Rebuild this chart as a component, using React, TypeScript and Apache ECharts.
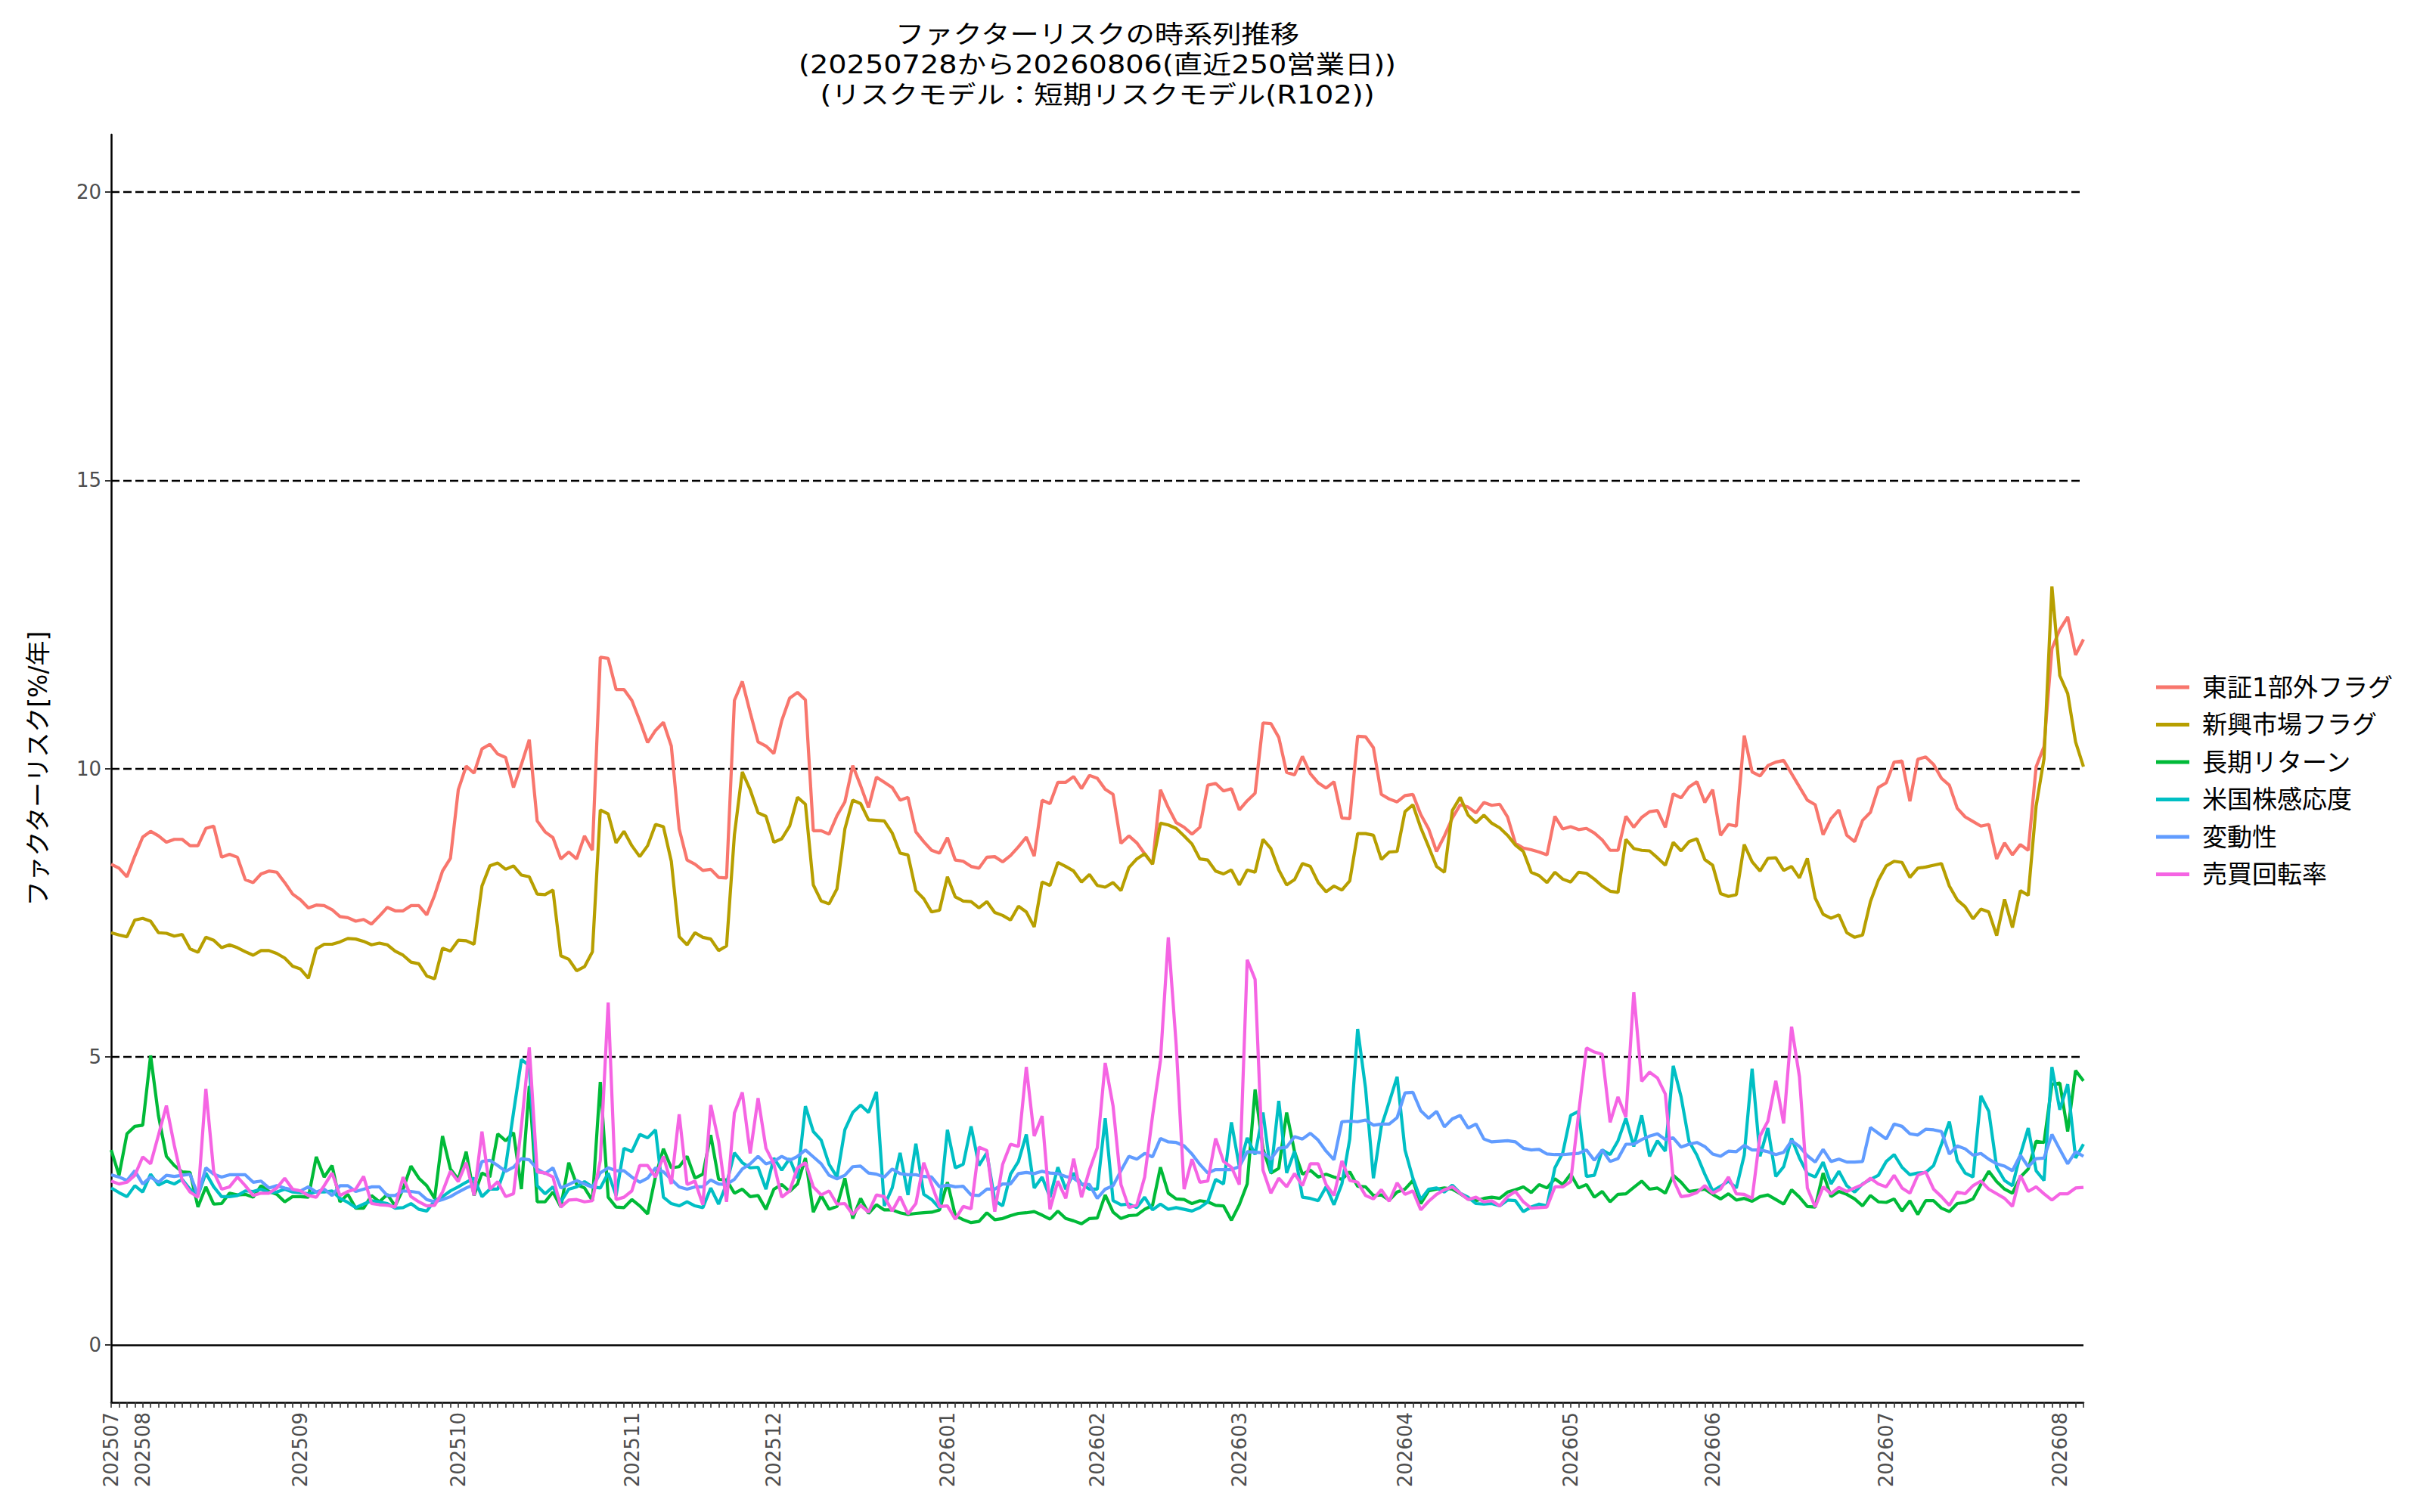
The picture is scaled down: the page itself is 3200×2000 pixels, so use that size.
import React, { useEffect, useRef } from "react";
import * as echarts from "echarts";

const START_DATE = "2025-07-28";
const END_DATE = "2026-08-06";
const HOLIDAYS = [
  "2025-08-11", "2025-09-15", "2025-09-23", "2025-10-13", "2025-11-03", "2025-11-24",
  "2025-12-31", "2026-01-01", "2026-01-02", "2026-01-12", "2026-02-11", "2026-02-23",
  "2026-03-20", "2026-04-29", "2026-05-04", "2026-05-05", "2026-05-06", "2026-07-20",
];

const TITLE_LINES = [
  "ファクターリスクの時系列推移",
  "(20250728から20260806(直近250営業日))",
  "(リスクモデル：短期リスクモデル(R102))",
];
const Y_NAME = "ファクターリスク[%/年]";
const Y_TICKS = [0, 5, 10, 15, 20];
const GRID_DASHED = [5, 10, 15, 20];

const SERIES_NAMES = ["東証1部外フラグ", "新興市場フラグ", "長期リターン", "米国株感応度", "変動性", "売買回転率"];
const COLORS = ["#F8766D", "#B79F00", "#00BA38", "#00BFC4", "#619CFF", "#F564E3"];

const tosho = [
  8.34, 8.27, 8.12, 8.48, 8.81, 8.91, 8.83, 8.72, 8.77, 8.77,
  8.66, 8.66, 8.96, 9.00, 8.46, 8.51, 8.46, 8.07, 8.02, 8.17,
  8.22, 8.20, 8.02, 7.82, 7.72, 7.58, 7.63, 7.62, 7.55, 7.43,
  7.41, 7.35, 7.38, 7.30, 7.44, 7.59, 7.53, 7.53, 7.62, 7.62,
  7.46, 7.80, 8.22, 8.44, 9.63, 10.04, 9.92, 10.34, 10.42, 10.25,
  10.19, 9.67, 10.07, 10.50, 9.09, 8.90, 8.80, 8.43, 8.55, 8.43,
  8.83, 8.58, 11.93, 11.91, 11.37, 11.37, 11.18, 10.83, 10.45, 10.66,
  10.80, 10.39, 8.95, 8.41, 8.34, 8.23, 8.25, 8.11, 8.10, 11.18,
  11.51, 10.97, 10.46, 10.39, 10.26, 10.83, 11.22, 11.32, 11.19, 8.92,
  8.92, 8.86, 9.18, 9.42, 10.05, 9.70, 9.32, 9.85, 9.76, 9.67,
  9.45, 9.50, 8.90, 8.73, 8.58, 8.53, 8.80, 8.41, 8.39, 8.30,
  8.27, 8.46, 8.47, 8.38, 8.49, 8.64, 8.81, 8.48, 9.45, 9.39,
  9.76, 9.76, 9.86, 9.65, 9.88, 9.83, 9.64, 9.55, 8.70, 8.83,
  8.71, 8.52, 8.34, 9.63, 9.32, 9.06, 8.98, 8.86, 8.98, 9.71,
  9.74, 9.61, 9.65, 9.28, 9.44, 9.57, 10.79, 10.78, 10.54, 9.93,
  9.89, 10.21, 9.91, 9.75, 9.66, 9.77, 9.14, 9.13, 10.56, 10.55,
  10.36, 9.55, 9.47, 9.42, 9.53, 9.55, 9.20, 8.95, 8.56, 8.83,
  9.14, 9.37, 9.33, 9.23, 9.41, 9.36, 9.38, 9.16, 8.70, 8.62,
  8.59, 8.55, 8.50, 9.17, 8.95, 8.99, 8.94, 8.96, 8.88, 8.76,
  8.58, 8.58, 9.17, 8.98, 9.15, 9.25, 9.27, 8.98, 9.56, 9.49,
  9.68, 9.77, 9.41, 9.63, 8.84, 9.03, 9.00, 10.57, 9.94, 9.87,
  10.05, 10.11, 10.14, 9.91, 9.68, 9.45, 9.37, 8.85, 9.13, 9.28,
  8.84, 8.73, 9.10, 9.24, 9.67, 9.75, 10.11, 10.13, 9.43, 10.16,
  10.20, 10.07, 9.83, 9.71, 9.31, 9.16, 9.08, 9.00, 9.03, 8.43,
  8.71, 8.50, 8.68, 8.58, 10.03, 10.38, 12.08, 12.41, 12.63, 11.97, 12.24,
];

const shinko = [
  7.15, 7.11, 7.08, 7.37, 7.40, 7.35, 7.15, 7.14, 7.09, 7.12,
  6.87, 6.81, 7.07, 7.02, 6.89, 6.94, 6.89, 6.82, 6.76, 6.84,
  6.84, 6.79, 6.71, 6.57, 6.52, 6.36, 6.87, 6.95, 6.95, 6.99,
  7.05, 7.04, 7.00, 6.94, 6.97, 6.94, 6.83, 6.76, 6.64, 6.61,
  6.40, 6.35, 6.88, 6.83, 7.02, 7.01, 6.95, 7.96, 8.31, 8.36,
  8.25, 8.31, 8.15, 8.12, 7.82, 7.81, 7.89, 6.75, 6.69, 6.49,
  6.56, 6.82, 9.28, 9.21, 8.71, 8.91, 8.66, 8.47, 8.66, 9.03,
  8.99, 8.39, 7.08, 6.94, 7.15, 7.07, 7.04, 6.84, 6.92, 8.85,
  9.94, 9.63, 9.23, 9.17, 8.72, 8.78, 9.00, 9.50, 9.38, 7.98,
  7.70, 7.65, 7.91, 8.95, 9.45, 9.39, 9.11, 9.10, 9.09, 8.88,
  8.53, 8.50, 7.88, 7.74, 7.51, 7.54, 8.12, 7.77, 7.70, 7.69,
  7.58, 7.69, 7.50, 7.45, 7.37, 7.61, 7.51, 7.25, 8.03, 7.97,
  8.37, 8.30, 8.22, 8.03, 8.16, 7.97, 7.94, 8.02, 7.88, 8.28,
  8.43, 8.52, 8.34, 9.05, 9.02, 8.96, 8.83, 8.69, 8.43, 8.41,
  8.22, 8.17, 8.24, 7.98, 8.24, 8.20, 8.77, 8.61, 8.24, 7.98,
  8.07, 8.35, 8.30, 8.02, 7.86, 7.96, 7.89, 8.05, 8.87, 8.87,
  8.84, 8.42, 8.55, 8.56, 9.25, 9.37, 8.97, 8.64, 8.30, 8.20,
  9.27, 9.50, 9.19, 9.06, 9.19, 9.05, 8.97, 8.84, 8.67, 8.56,
  8.20, 8.14, 8.02, 8.20, 8.08, 8.03, 8.20, 8.18, 8.08, 7.96,
  7.87, 7.85, 8.77, 8.61, 8.58, 8.57, 8.45, 8.32, 8.72, 8.57,
  8.73, 8.78, 8.42, 8.32, 7.83, 7.78, 7.81, 8.68, 8.38, 8.22,
  8.44, 8.45, 8.23, 8.30, 8.10, 8.44, 7.75, 7.47, 7.40, 7.46,
  7.15, 7.07, 7.11, 7.69, 8.06, 8.31, 8.39, 8.37, 8.11, 8.27,
  8.29, 8.32, 8.35, 7.96, 7.72, 7.60, 7.39, 7.56, 7.51, 7.10,
  7.73, 7.24, 7.88, 7.80, 9.35, 10.17, 13.16, 11.61, 11.30, 10.46, 10.03,
];

const chokiReturn = [
  3.38, 2.94, 3.66, 3.79, 3.81, 5.02, 3.97, 3.27, 3.11, 3.00,
  2.99, 2.39, 2.74, 2.44, 2.45, 2.63, 2.60, 2.61, 2.56, 2.76,
  2.66, 2.61, 2.48, 2.57, 2.57, 2.56, 3.26, 2.91, 3.11, 2.48,
  2.61, 2.37, 2.37, 2.59, 2.48, 2.61, 2.41, 2.70, 3.10, 2.89,
  2.76, 2.54, 3.62, 3.05, 2.87, 3.35, 2.59, 2.98, 2.91, 3.66,
  3.54, 3.68, 2.70, 4.49, 2.48, 2.48, 2.65, 2.39, 3.16, 2.78,
  2.72, 2.50, 4.56, 2.56, 2.39, 2.38, 2.52, 2.41, 2.27, 2.92,
  3.40, 3.07, 3.09, 3.27, 2.89, 2.96, 3.64, 2.87, 2.86, 2.63,
  2.70, 2.57, 2.59, 2.35, 2.70, 2.78, 2.66, 2.79, 3.24, 2.30,
  2.59, 2.35, 2.40, 2.89, 2.19, 2.54, 2.28, 2.43, 2.34, 2.34,
  2.29, 2.26, 2.28, 2.29, 2.30, 2.34, 2.82, 2.24, 2.17, 2.12,
  2.14, 2.29, 2.17, 2.19, 2.24, 2.28, 2.29, 2.31, 2.25, 2.18,
  2.32, 2.19, 2.15, 2.10, 2.19, 2.20, 2.60, 2.30, 2.19, 2.24,
  2.25, 2.35, 2.42, 3.08, 2.63, 2.53, 2.52, 2.45, 2.50, 2.48,
  2.42, 2.41, 2.16, 2.43, 2.79, 4.43, 3.40, 2.98, 3.06, 4.03,
  3.35, 2.96, 3.03, 2.91, 2.96, 2.91, 2.87, 3.00, 2.75, 2.74,
  2.59, 2.60, 2.51, 2.65, 2.70, 2.85, 2.45, 2.67, 2.70, 2.72,
  2.70, 2.62, 2.53, 2.50, 2.54, 2.56, 2.54, 2.65, 2.69, 2.74,
  2.64, 2.78, 2.72, 2.88, 2.78, 2.96, 2.72, 2.78, 2.56, 2.66,
  2.48, 2.61, 2.62, 2.73, 2.84, 2.70, 2.72, 2.63, 2.94, 2.82,
  2.66, 2.68, 2.70, 2.61, 2.53, 2.62, 2.51, 2.54, 2.49, 2.57,
  2.60, 2.52, 2.44, 2.69, 2.56, 2.40, 2.39, 2.98, 2.57, 2.66,
  2.61, 2.53, 2.41, 2.59, 2.48, 2.47, 2.53, 2.32, 2.50, 2.26,
  2.50, 2.50, 2.37, 2.31, 2.45, 2.47, 2.53, 2.78, 3.01, 2.83,
  2.70, 2.63, 2.91, 3.05, 3.53, 3.51, 4.52, 4.54, 3.70, 4.76, 4.58,
];

const beikoku = [
  2.72, 2.64, 2.57, 2.76, 2.65, 2.96, 2.77, 2.84, 2.79, 2.87,
  2.70, 2.59, 2.98, 2.74, 2.57, 2.57, 2.59, 2.67, 2.66, 2.70,
  2.64, 2.65, 2.70, 2.65, 2.64, 2.62, 2.65, 2.65, 2.67, 2.54,
  2.47, 2.38, 2.44, 2.50, 2.48, 2.45, 2.37, 2.38, 2.45, 2.35,
  2.32, 2.50, 2.57, 2.67, 2.74, 2.82, 2.89, 2.57, 2.70, 2.70,
  3.09, 4.03, 4.95, 4.84, 2.76, 2.62, 2.74, 2.48, 2.70, 2.74,
  2.83, 2.74, 2.72, 2.98, 2.59, 3.41, 3.35, 3.65, 3.59, 3.73,
  2.56, 2.45, 2.41, 2.48, 2.41, 2.38, 2.72, 2.44, 2.79, 3.33,
  3.16, 3.07, 3.08, 2.70, 3.24, 3.03, 3.23, 2.89, 4.14, 3.70,
  3.55, 3.13, 2.91, 3.73, 4.03, 4.16, 4.03, 4.39, 2.41, 2.72,
  3.33, 2.60, 3.49, 2.61, 2.52, 2.37, 3.73, 3.07, 3.13, 3.79,
  3.11, 3.33, 2.50, 2.41, 2.96, 3.18, 3.65, 2.72, 2.91, 2.56,
  3.08, 2.70, 2.98, 2.79, 2.70, 2.70, 3.93, 2.50, 2.43, 2.44,
  2.38, 2.56, 2.34, 2.44, 2.35, 2.38, 2.35, 2.32, 2.38, 2.48,
  2.87, 2.79, 3.86, 3.09, 3.59, 3.30, 4.03, 2.98, 4.23, 2.98,
  3.36, 2.56, 2.54, 2.50, 2.74, 2.43, 2.79, 3.57, 5.48, 4.45,
  2.89, 3.79, 4.21, 4.65, 3.38, 2.89, 2.52, 2.70, 2.72, 2.65,
  2.77, 2.63, 2.56, 2.45, 2.44, 2.45, 2.41, 2.51, 2.50, 2.31,
  2.39, 2.44, 2.41, 3.07, 3.33, 3.98, 4.05, 2.92, 2.94, 3.38,
  3.30, 3.54, 3.93, 3.44, 3.98, 3.27, 3.54, 3.36, 4.84, 4.30,
  3.53, 3.29, 2.96, 2.67, 2.75, 2.84, 2.72, 3.29, 4.79, 3.27,
  3.76, 2.92, 3.09, 3.58, 3.24, 2.97, 2.91, 3.17, 2.79, 3.01,
  2.76, 2.65, 2.79, 2.87, 2.94, 3.18, 3.30, 3.08, 2.95, 2.98,
  2.99, 3.11, 3.48, 3.87, 3.20, 2.98, 2.91, 4.32, 4.05, 3.08,
  2.85, 2.76, 3.30, 3.76, 3.02, 2.85, 4.82, 4.08, 4.52, 3.24, 3.48,
];

const hendo = [
  2.95, 2.91, 2.85, 3.02, 2.79, 2.91, 2.82, 2.94, 2.92, 2.94,
  2.96, 2.59, 3.07, 2.96, 2.91, 2.95, 2.95, 2.95, 2.82, 2.84,
  2.72, 2.76, 2.72, 2.69, 2.67, 2.74, 2.65, 2.70, 2.59, 2.76,
  2.76, 2.66, 2.70, 2.74, 2.74, 2.59, 2.59, 2.67, 2.66, 2.64,
  2.52, 2.48, 2.52, 2.57, 2.65, 2.72, 2.78, 3.18, 3.20, 3.11,
  3.01, 3.08, 3.23, 3.21, 3.05, 2.97, 3.07, 2.72, 2.78, 2.85,
  2.79, 2.73, 2.98, 3.07, 3.02, 3.02, 2.91, 2.82, 2.89, 3.07,
  3.00, 2.87, 2.74, 2.70, 2.74, 2.74, 2.86, 2.79, 2.78, 2.87,
  3.05, 3.14, 3.27, 3.14, 3.18, 3.27, 3.20, 3.27, 3.38, 3.26,
  3.14, 2.94, 2.88, 2.94, 3.09, 3.10, 2.98, 2.96, 2.91, 3.05,
  2.97, 2.95, 2.95, 2.92, 2.91, 2.74, 2.77, 2.74, 2.75, 2.60,
  2.59, 2.70, 2.70, 2.79, 2.79, 2.97, 2.99, 2.97, 3.01, 2.98,
  2.97, 2.92, 2.89, 2.79, 2.78, 2.54, 2.70, 2.76, 3.02, 3.27,
  3.22, 3.32, 3.26, 3.58, 3.52, 3.51, 3.45, 3.31, 3.13, 2.98,
  3.04, 3.04, 3.04, 3.09, 3.35, 3.34, 3.33, 3.22, 3.41, 3.43,
  3.61, 3.57, 3.67, 3.55, 3.36, 3.21, 3.87, 3.88, 3.87, 3.90,
  3.81, 3.83, 3.83, 3.94, 4.37, 4.38, 4.06, 3.93, 4.05, 3.78,
  3.92, 3.98, 3.76, 3.83, 3.57, 3.52, 3.53, 3.54, 3.52, 3.41,
  3.38, 3.39, 3.31, 3.30, 3.30, 3.31, 3.32, 3.38, 3.20, 3.38,
  3.18, 3.23, 3.48, 3.48, 3.56, 3.62, 3.66, 3.56, 3.59, 3.43,
  3.48, 3.51, 3.44, 3.31, 3.27, 3.36, 3.35, 3.46, 3.38, 3.38,
  3.35, 3.30, 3.34, 3.54, 3.44, 3.28, 3.17, 3.39, 3.18, 3.22,
  3.17, 3.17, 3.18, 3.77, 3.67, 3.57, 3.83, 3.79, 3.66, 3.64,
  3.74, 3.73, 3.70, 3.31, 3.45, 3.40, 3.29, 3.32, 3.22, 3.14,
  3.10, 3.02, 3.29, 3.09, 3.23, 3.24, 3.65, 3.39, 3.14, 3.35, 3.27,
];

const baibai = [
  2.84, 2.79, 2.82, 2.94, 3.26, 3.14, 3.64, 4.15, 3.46, 2.85,
  2.65, 2.56, 4.44, 3.00, 2.70, 2.74, 2.91, 2.76, 2.59, 2.63,
  2.63, 2.72, 2.89, 2.70, 2.67, 2.59, 2.56, 2.76, 2.98, 2.59,
  2.66, 2.70, 2.92, 2.45, 2.43, 2.42, 2.39, 2.91, 2.57, 2.48,
  2.41, 2.42, 2.65, 3.01, 2.83, 3.16, 2.59, 3.70, 2.70, 2.83,
  2.57, 2.62, 3.79, 5.16, 3.00, 2.98, 2.91, 2.39, 2.51, 2.52,
  2.48, 2.50, 3.20, 5.94, 2.52, 2.56, 2.67, 3.11, 3.11, 2.91,
  3.27, 2.79, 4.00, 2.78, 2.84, 2.43, 4.16, 3.53, 2.48, 4.02,
  4.38, 3.32, 4.28, 3.41, 3.14, 2.56, 2.67, 3.07, 3.16, 2.74,
  2.60, 2.67, 2.44, 2.45, 2.26, 2.42, 2.30, 2.60, 2.57, 2.32,
  2.57, 2.27, 2.45, 3.16, 2.78, 2.40, 2.41, 2.18, 2.40, 2.36,
  3.43, 3.37, 2.31, 3.13, 3.48, 3.44, 4.82, 3.62, 3.97, 2.35,
  2.84, 2.54, 3.23, 2.56, 3.03, 3.42, 4.89, 4.14, 2.78, 2.38,
  2.42, 2.91, 3.97, 4.93, 7.07, 5.20, 2.70, 3.22, 2.82, 2.84,
  3.58, 3.18, 3.08, 2.78, 6.68, 6.34, 3.03, 2.63, 2.89, 2.74,
  2.97, 2.76, 3.14, 3.14, 2.78, 2.59, 3.19, 2.85, 2.82, 2.59,
  2.53, 2.69, 2.49, 2.81, 2.61, 2.67, 2.34, 2.49, 2.61, 2.69,
  2.74, 2.63, 2.52, 2.56, 2.48, 2.50, 2.41, 2.57, 2.66, 2.48,
  2.37, 2.38, 2.39, 2.74, 2.74, 2.83, 4.00, 5.15, 5.08, 5.04,
  3.86, 4.30, 3.95, 6.12, 4.57, 4.73, 4.63, 4.35, 2.87, 2.57,
  2.59, 2.64, 2.76, 2.63, 2.70, 2.91, 2.62, 2.61, 2.54, 3.62,
  3.88, 4.58, 3.84, 5.52, 4.65, 2.72, 2.39, 2.74, 2.62, 2.73,
  2.66, 2.72, 2.78, 2.89, 2.79, 2.74, 2.94, 2.72, 2.63, 2.94,
  3.00, 2.70, 2.57, 2.42, 2.65, 2.62, 2.76, 2.84, 2.70, 2.62,
  2.54, 2.40, 2.94, 2.66, 2.74, 2.62, 2.51, 2.62, 2.62, 2.72, 2.73,
];

const SERIES_VALUES = [tosho, shinko, chokiReturn, beikoku, hendo, baibai];

function buildBusinessDays(): string[] {
  const out: string[] = [];
  const d = new Date(START_DATE + "T00:00:00Z");
  const end = new Date(END_DATE + "T00:00:00Z");
  while (d.getTime() <= end.getTime()) {
    const dow = d.getUTCDay();
    const iso = d.toISOString().slice(0, 10);
    if (dow !== 0 && dow !== 6 && HOLIDAYS.indexOf(iso) < 0) out.push(iso.replace(/-/g, ""));
    d.setUTCDate(d.getUTCDate() + 1);
  }
  return out;
}

const FONT = "'DejaVu Sans', 'Noto Sans CJK JP', sans-serif";

export default function App() {
  const ref = useRef<HTMLDivElement>(null);
  useEffect(() => {
    if (!ref.current) return;
    const chart = echarts.init(ref.current, null, { renderer: "svg" });
    const dates = buildBusinessDays();
    const isMonthStart = dates.map((v, i) => i === 0 || v.slice(0, 6) !== dates[i - 1].slice(0, 6));

    const series: any[] = SERIES_NAMES.map((name, k) => ({
      name,
      type: "line",
      data: SERIES_VALUES[k],
      showSymbol: false,
      symbol: "none",
      lineStyle: { width: 4.2, color: COLORS[k] },
      itemStyle: { color: COLORS[k] },
      z: 3,
    }));
    series[0].markLine = {
      silent: true,
      symbol: ["none", "none"],
      label: { show: false },
      z: 1,
      data: [
        ...GRID_DASHED.map((v) => ({ yAxis: v, lineStyle: { color: "#000", width: 2.4, type: [11, 5] } })),
        { yAxis: 0, lineStyle: { color: "#000", width: 2.6, type: "solid" } },
      ],
    };

    chart.setOption({
      animation: false,
      backgroundColor: "#fff",
      textStyle: { fontFamily: FONT },
      graphic: [
        {
          type: "text",
          x: 1451,
          y: 25,
          scaleX: 1.16,
          style: {
            text: TITLE_LINES.join("\n"),
            fontSize: 33,
            lineHeight: 40,
            fontFamily: FONT,
            fill: "#000",
            textAlign: "center",
            textVerticalAlign: "top",
          },
        },
      ],
      grid: { left: 147, right: 445, top: 178, bottom: 145, containLabel: false },
      legend: {
        orient: "vertical",
        left: 2846,
        top: 886,
        icon: "rect",
        itemWidth: 44,
        itemHeight: 5,
        itemGap: 13.5,
        data: SERIES_NAMES,
        textStyle: { fontSize: 33, lineHeight: 36, color: "#000", fontFamily: FONT, padding: [0, 0, 0, 12] },
      },
      xAxis: {
        type: "category",
        data: dates,
        boundaryGap: false,
        axisLine: { onZero: false, lineStyle: { color: "#000", width: 2.5 } },
        axisTick: { interval: 0, length: 7, lineStyle: { color: "#333", width: 1.6 } },
        axisLabel: {
          interval: (i: number) => isMonthStart[i],
          formatter: (v: string) => v.slice(0, 6),
          rotate: 90,
          fontSize: 26,
          color: "#4d4d4d",
          margin: 13,
          fontFamily: FONT,
        },
        splitLine: { show: false },
      },
      yAxis: {
        type: "value",
        min: -1,
        max: 21,
        name: Y_NAME,
        nameLocation: "middle",
        nameRotate: 90,
        nameGap: 80,
        nameTextStyle: { fontSize: 33, color: "#000", fontFamily: FONT },
        axisLine: { show: true, lineStyle: { color: "#000", width: 2.5 } },
        axisTick: { show: true, length: 8, customValues: Y_TICKS, lineStyle: { color: "#333", width: 2 } },
        axisLabel: { customValues: Y_TICKS, fontSize: 26, color: "#4d4d4d", margin: 13, fontFamily: FONT },
        splitLine: { show: false },
      },
      series,
    });
    return () => chart.dispose();
  }, []);
  return <div ref={ref} style={{ position: "absolute", left: 0, top: 0, width: 3200, height: 2000 }} />;
}
